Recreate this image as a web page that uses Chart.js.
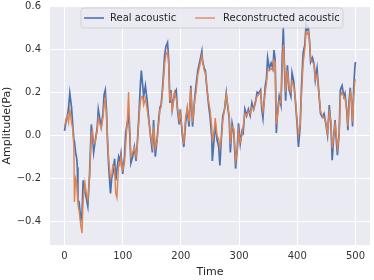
<!DOCTYPE html>
<html>
<head>
<meta charset="utf-8">
<script src="https://cdn.jsdelivr.net/npm/chart.js@4"></script>
<style>
  html, body { margin: 0; padding: 0; background: #fff; }
  #wrap { width: 374px; height: 280px; }
</style>
</head>
<body>
<div id="wrap"><canvas id="chart" width="374" height="280"></canvas></div>
<script>
// sample times and the two signals
const time = [0, 3, 5, 7, 9, 12, 14, 16, 17, 19, 21, 22, 23, 25, 28, 30, 32, 35, 38, 40,
  43, 46, 48, 50, 53, 56, 58, 61, 63, 66, 68, 70, 72, 74, 76, 79, 81, 83, 86, 88,
  90, 93, 95, 97, 100, 103, 105, 108, 110, 112, 114, 117, 120, 123, 125, 128, 130, 132, 134, 136,
  139, 142, 145, 148, 151, 153, 156, 159, 162, 164, 166, 169, 172, 174, 177, 179, 181, 183, 185, 189,
  192, 194, 197, 199, 202, 205, 208, 211, 214, 217, 220, 224, 226, 229, 233, 236, 237, 240, 242, 245,
  248, 250, 253, 254, 257, 259, 262, 265, 267, 270, 272, 275, 278, 280, 283, 285, 288, 291, 294, 297,
  299, 302, 305, 307, 310, 313, 316, 319, 322, 325, 328, 331, 334, 337, 339, 341, 343, 345, 347, 349,
  352, 355, 358, 360, 362, 364, 366, 369, 372, 374, 376, 378, 380, 383, 386, 389, 391, 394, 397, 400,
  402, 405, 407, 410, 413, 415, 417, 419, 421, 423, 426, 429, 431, 434, 437, 440, 443, 446, 449, 452,
  455, 458, 460, 463, 465, 467, 469, 472, 474, 477, 480, 482, 485, 487, 489, 491, 493, 495, 497, 499, 500];

const realAcoustic = [0.02, 0.07, 0.09, 0.13, 0.195, 0.13, 0.05, -0.02, -0.03, -0.08, -0.11, -0.15, -0.30, -0.31, -0.395, -0.36, -0.21, -0.26, -0.30, -0.33,
  -0.18, 0.05, 0.0, -0.08, -0.02, 0.03, 0.12, 0.07, 0.04, 0.10, 0.19, 0.21, 0.12, -0.04, -0.15, -0.27, -0.20, -0.18, -0.11, -0.21,
  -0.16, -0.10, -0.12, -0.085, -0.18, -0.10, 0.01, 0.06, 0.09, 0.01, -0.13, -0.10, -0.055, -0.12, -0.04, 0.10, 0.22, 0.30, 0.24, 0.18,
  0.23, 0.16, 0.07, -0.01, -0.08, 0.07, -0.10, -0.02, 0.08, 0.13, 0.14, 0.24, 0.37, 0.41, 0.43, 0.35, 0.15, 0.21, 0.12, 0.195,
  0.21, 0.12, 0.05, 0.12, 0.01, -0.055, 0.055, 0.12, 0.04, 0.23, 0.04, 0.18, 0.23, 0.30, 0.35, 0.39, 0.35, 0.31, 0.30, 0.21,
  0.13, 0.09, -0.01, -0.12, -0.02, 0.055, -0.02, -0.055, -0.14, 0.01, 0.09, 0.12, 0.195, 0.14, 0.08, -0.08, 0.055, 0.01, -0.155, -0.055,
  0.055, -0.04, 0.02, 0.01, 0.12, 0.09, 0.12, 0.09, 0.15, 0.12, 0.15, 0.20, 0.195, 0.21, 0.12, 0.08, 0.16, 0.23, 0.26, 0.36,
  0.31, 0.335, 0.31, 0.395, 0.35, 0.01, 0.10, 0.18, 0.14, 0.35, 0.50, 0.31, 0.16, 0.325, 0.21, 0.18, 0.29, 0.25, 0.15, 0.04,
  -0.055, 0.04, 0.21, 0.38, 0.42, 0.51, 0.49, 0.50, 0.44, 0.34, 0.36, 0.33, 0.256, 0.31, 0.20, 0.10, 0.084, 0.10, 0.055, 0.0,
  0.14, 0.04, -0.116, 0.01, 0.07, -0.02, -0.093, 0.01, 0.21, 0.23, 0.18, 0.195, 0.116, 0.023, 0.16, 0.22, 0.16, 0.04, 0.22, 0.316, 0.34];

const reconAcoustic = [0.04, 0.08, 0.09, 0.06, 0.12, 0.06, 0.03, -0.05, -0.31, -0.20, -0.22, -0.28, -0.32, -0.35, -0.42, -0.455, -0.30, -0.22, -0.28, -0.30,
  -0.20, 0.0, 0.02, -0.04, -0.03, 0.02, 0.08, 0.05, 0.03, 0.08, 0.14, 0.17, 0.10, -0.02, -0.12, -0.20, -0.19, -0.14, -0.15, -0.27,
  -0.29, -0.13, -0.14, -0.10, -0.16, -0.13, -0.05, 0.07, 0.20, 0.05, -0.10, -0.08, -0.06, -0.10, -0.05, 0.08, 0.15, 0.18, 0.18, 0.14,
  0.17, 0.12, 0.06, 0.0, -0.05, 0.04, -0.06, -0.03, 0.06, 0.12, 0.13, 0.22, 0.33, 0.37, 0.39, 0.33, 0.17, 0.19, 0.11, 0.20,
  0.17, 0.13, 0.07, 0.10, 0.03, -0.04, 0.08, 0.13, 0.06, 0.22, 0.06, 0.17, 0.20, 0.28, 0.33, 0.37, 0.35, 0.30, 0.29, 0.21,
  0.15, 0.12, 0.04, -0.03, 0.02, 0.08, 0.0, -0.02, -0.06, 0.0, 0.07, 0.12, 0.19, 0.15, 0.09, -0.04, 0.04, 0.03, -0.12, -0.08,
  0.02, -0.03, 0.0, 0.04, 0.10, 0.09, 0.11, 0.10, 0.13, 0.12, 0.16, 0.18, 0.19, 0.20, 0.14, 0.11, 0.15, 0.20, 0.24, 0.30,
  0.30, 0.31, 0.30, 0.35, 0.34, 0.05, 0.09, 0.16, 0.15, 0.30, 0.42, 0.33, 0.20, 0.30, 0.22, 0.20, 0.25, 0.23, 0.16, 0.06,
  0.0, 0.05, 0.17, 0.33, 0.40, 0.48, 0.47, 0.48, 0.44, 0.35, 0.34, 0.33, 0.26, 0.28, 0.20, 0.11, 0.09, 0.08, 0.06, 0.01,
  0.11, 0.06, -0.06, 0.0, 0.05, 0.01, -0.06, 0.0, 0.18, 0.20, 0.18, 0.17, 0.12, 0.04, 0.13, 0.20, 0.17, 0.06, 0.18, 0.25, 0.26];

const xTicks = [0, 100, 200, 300, 400, 500];
const yTicks = [-0.4, -0.2, 0.0, 0.2, 0.4, 0.6];

const seriesNames = ['Real acoustic', 'Reconstructed acoustic'];
const seriesColors = ['#4C72B0', '#DD8452'];

function toPoints(ys) {
  return time.map((t, i) => ({ x: t, y: ys[i] }));
}

function fmtY(v) {
  const s = Math.abs(v).toFixed(1);
  return v < -1e-9 ? '\u2212' + s : s;
}

// seaborn style background behind the plot
const bgPlugin = {
  id: 'bg',
  beforeDraw(chart) {
    const { ctx, chartArea: a } = chart;
    ctx.save();
    ctx.fillStyle = '#EAEAF2';
    ctx.fillRect(a.left, a.top, a.right - a.left, a.bottom - a.top);
    ctx.restore();
  }
};

// matplotlib-like legend in the upper centre
const legendPlugin = {
  id: 'mplLegend',
  afterDraw(chart) {
    const ctx = chart.ctx;
    const x0 = 81, y0 = 8, w = 262, h = 20, r = 3;
    ctx.save();
    ctx.beginPath();
    ctx.moveTo(x0 + r, y0);
    ctx.arcTo(x0 + w, y0, x0 + w, y0 + h, r);
    ctx.arcTo(x0 + w, y0 + h, x0, y0 + h, r);
    ctx.arcTo(x0, y0 + h, x0, y0, r);
    ctx.arcTo(x0, y0, x0 + w, y0, r);
    ctx.closePath();
    ctx.fillStyle = 'rgba(234,234,242,0.8)';
    ctx.fill();
    ctx.strokeStyle = 'rgba(204,204,204,0.8)';
    ctx.lineWidth = 1;
    ctx.stroke();

    ctx.font = '10px "DejaVu Sans"';
    ctx.textBaseline = 'middle';
    ctx.fillStyle = '#262626';
    const items = [{ lx: 84, tx: 110 }, { lx: 195, tx: 223 }];
    items.forEach((it, i) => {
      ctx.strokeStyle = seriesColors[i];
      ctx.lineWidth = i === 0 ? 1.6 : 1.3;
      ctx.beginPath();
      ctx.moveTo(it.lx, y0 + h / 2);
      ctx.lineTo(it.lx + 20, y0 + h / 2);
      ctx.stroke();
      ctx.fillText(seriesNames[i], it.tx, y0 + h / 2 + 0.5);
    });
    ctx.restore();
  }
};

const ctx = document.getElementById('chart').getContext('2d');
new Chart(ctx, {
  type: 'line',
  data: {
    datasets: [
      {
        label: seriesNames[0],
        data: toPoints(realAcoustic),
        borderColor: seriesColors[0],
        borderWidth: 1.7,
        pointRadius: 0,
        tension: 0,
        order: 2
      },
      {
        label: seriesNames[1],
        data: toPoints(reconAcoustic),
        borderColor: seriesColors[1],
        borderWidth: 1.4,
        pointRadius: 0,
        tension: 0,
        order: 1
      }
    ]
  },
  options: {
    responsive: false,
    animation: false,
    layout: { padding: { top: 6, right: 4, left: 0, bottom: 0 } },
    plugins: {
      legend: { display: false },
      tooltip: { enabled: false }
    },
    scales: {
      x: {
        type: 'linear',
        min: -25,
        max: 525,
        afterBuildTicks: scale => { scale.ticks = xTicks.map(v => ({ value: v })); },
        afterFit: scale => { scale.height = 35; },
        border: { display: false },
        grid: { color: '#ffffff', lineWidth: 1, drawTicks: false },
        ticks: {
          color: '#333333',
          font: { family: 'DejaVu Sans', size: 10 },
          padding: 5,
          maxRotation: 0,
          callback: v => String(v)
        },
        title: {
          display: true,
          text: 'Time',
          color: '#262626',
          font: { family: 'DejaVu Sans', size: 11 },
          padding: { top: 0, bottom: 1 }
        }
      },
      y: {
        min: -0.51,
        max: 0.6,
        afterBuildTicks: scale => { scale.ticks = yTicks.map(v => ({ value: v })); },
        afterFit: scale => {
          scale.width = 50;
          scale.paddingTop = 0;
          scale.paddingBottom = 0;
        },
        border: { display: false },
        grid: { color: '#ffffff', lineWidth: 1, drawTicks: false },
        ticks: {
          color: '#333333',
          font: { family: 'DejaVu Sans', size: 10 },
          padding: 9,
          callback: v => fmtY(v)
        },
        title: {
          display: true,
          text: 'Amplitude(Pa)',
          color: '#262626',
          font: { family: 'DejaVu Sans', size: 11 },
          padding: { top: 1, bottom: 0 }
        }
      }
    }
  },
  plugins: [bgPlugin, legendPlugin]
});
</script>
</body>
</html>
